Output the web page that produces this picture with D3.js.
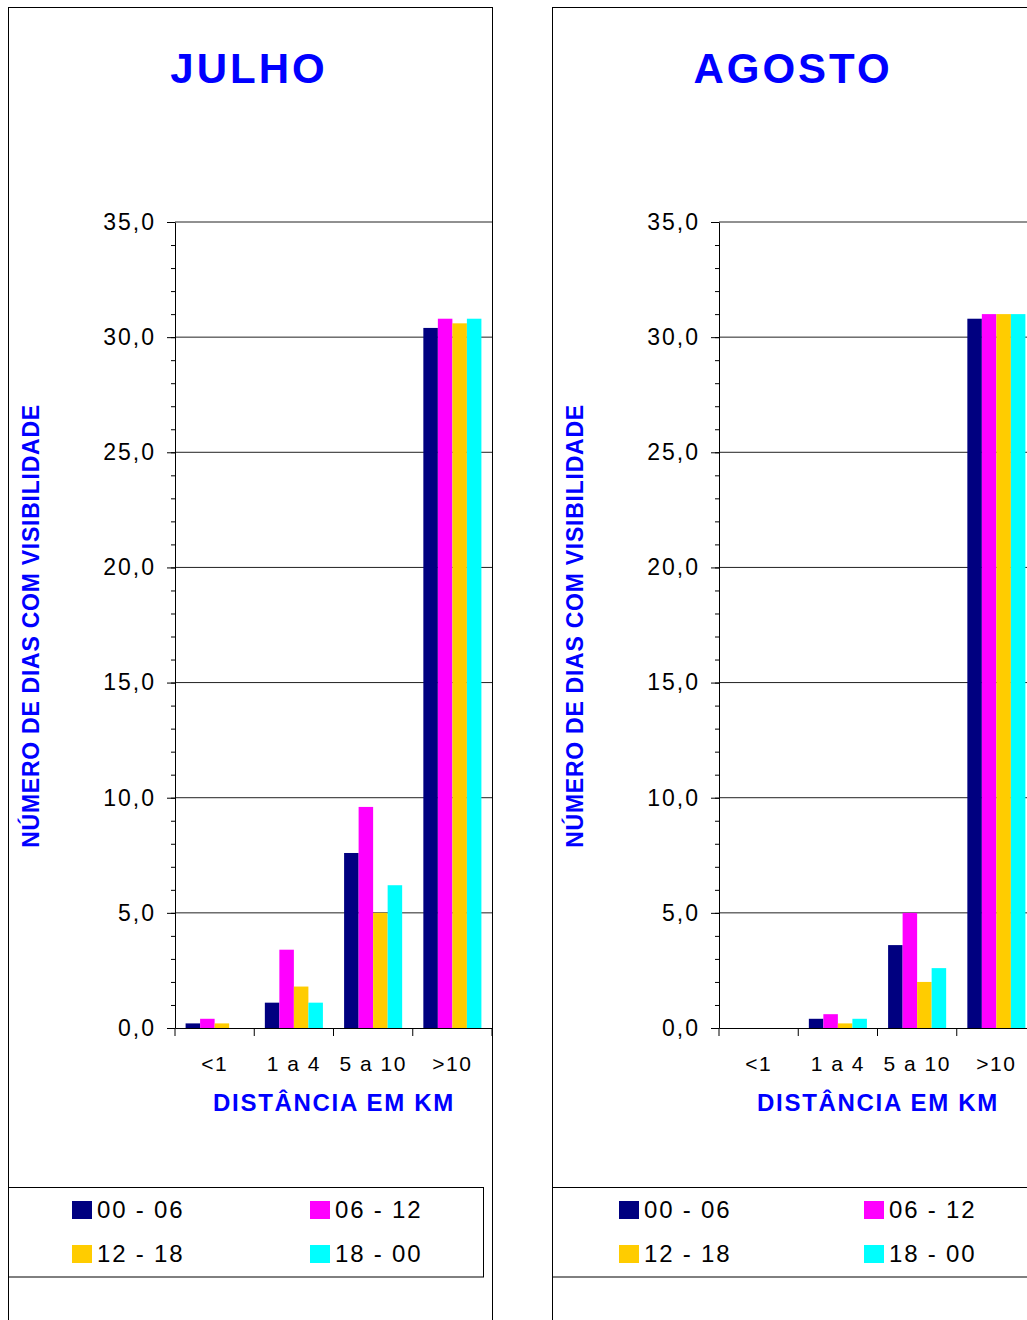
<!DOCTYPE html>
<html>
<head>
<meta charset="utf-8">
<script src="https://cdn.jsdelivr.net/npm/d3@7"></script>
<style>
  body { margin: 0; background: #fff; }
  svg { display: block; font-family: Arial, "Liberation Sans", sans-serif; }
</style>
</head>
<body>
<svg id="chart" width="1027" height="1320"></svg>
<script>
// ---- data ----
const categories = ["<1", "1 a 4", "5 a 10", ">10"];
const series = ["00 - 06", "06 - 12", "12 - 18", "18 - 00"];
const seriesColors = ["#000080", "#FF00FF", "#FFCC00", "#00FFFF"];

// values per time slot, in category order
const julho = [
  [0.2, 1.1, 7.6, 30.4],   // 00 - 06
  [0.4, 3.4, 9.6, 30.8],   // 06 - 12
  [0.2, 1.8, 5.0, 30.6],   // 12 - 18
  [0.0, 1.1, 6.2, 30.8]    // 18 - 00
];
const agosto = [
  [0.0, 0.4, 3.6, 30.8],
  [0.0, 0.6, 5.0, 31.0],
  [0.0, 0.2, 2.0, 31.0],
  [0.0, 0.4, 2.6, 31.0]
];

const yTickValues = [0, 5, 10, 15, 20, 25, 30, 35];
const yTickLabels = ["0,0", "5,0", "10,0", "15,0", "20,0", "25,0", "30,0", "35,0"];
const yAxisTitle = "NÚMERO DE DIAS COM VISIBILIDADE";
const xAxisTitle = "DISTÂNCIA EM KM";

// ---- layout ----
const svg = d3.select("#chart");
const BLUE = "#0000FF";

const panels = [
  { title: "JULHO", values: julho, dx: 0, legendCols: [72, 310] },
  { title: "AGOSTO", values: agosto, dx: 544, legendCols: [75, 320] }
];

const plot = { left: 175, right: 492, top: 222, bottom: 1028 };

const y = d3.scaleLinear().domain([0, 35]).range([plot.bottom, plot.top]);
const x0 = d3.scaleBand().domain(categories).range([plot.left, plot.right]);
const x1 = d3.scaleBand().domain(series).range([0, x0.bandwidth()])
  .paddingInner(0).paddingOuter(0.73);

panels.forEach(p => {
  const g = svg.append("g").attr("transform", `translate(${p.dx},0)`);

  // panel frame
  g.append("rect")
    .attr("x", 8.5).attr("y", 7.5)
    .attr("width", 484).attr("height", 1400)
    .attr("fill", "none").attr("stroke", "#000").attr("stroke-width", 1);

  // title
  g.append("text")
    .attr("x", 249).attr("y", 83)
    .attr("text-anchor", "middle")
    .attr("font-size", 42).attr("font-weight", "bold")
    .attr("letter-spacing", 3)
    .attr("fill", BLUE)
    .text(p.title);

  // gridlines
  g.append("g")
    .selectAll("line")
    .data(yTickValues.filter(v => v > 0))
    .join("line")
    .attr("x1", plot.left).attr("x2", plot.right)
    .attr("y1", d => y(d)).attr("y2", d => y(d))
    .attr("stroke", "#222").attr("stroke-width", 1);

  // bars
  const bars = g.append("g");
  series.forEach((s, si) => {
    bars.append("g")
      .attr("fill", seriesColors[si])
      .selectAll("rect")
      .data(p.values[si].map((v, ci) => ({ cat: categories[ci], v })))
      .join("rect")
      .attr("x", d => x0(d.cat) + x1(s))
      .attr("width", x1.bandwidth())
      .attr("y", d => y(d.v))
      .attr("height", d => y(0) - y(d.v));
  });

  // minor y ticks
  g.append("g")
    .attr("transform", `translate(${plot.left},0)`)
    .call(d3.axisLeft(y).tickValues(d3.range(0, 36, 1)).tickSize(4).tickSizeOuter(0).tickFormat(""))
    .call(a => a.select(".domain").remove())
    .call(a => a.selectAll("line").attr("stroke", "#000"));

  // major y axis
  g.append("g")
    .attr("transform", `translate(${plot.left},0)`)
    .call(d3.axisLeft(y).tickValues(yTickValues).tickSize(8).tickSizeOuter(0)
      .tickPadding(11).tickFormat((d, i) => yTickLabels[i]))
    .call(a => a.select(".domain").attr("stroke", "#000"))
    .call(a => a.selectAll("line").attr("stroke", "#000"))
    .call(a => a.selectAll("text")
      .attr("font-size", 23).attr("letter-spacing", 2)
      .attr("font-family", "Arial, 'Liberation Sans', sans-serif")
      .attr("fill", "#000"));

  // x axis with category labels
  g.append("g")
    .attr("transform", `translate(0,${plot.bottom})`)
    .call(d3.axisBottom(x0).tickSize(0).tickSizeOuter(0).tickPadding(28))
    .call(a => a.select(".domain").attr("stroke", "#000"))
    .call(a => a.selectAll("text")
      .attr("font-size", 21).attr("letter-spacing", 1.5)
      .attr("font-family", "Arial, 'Liberation Sans', sans-serif")
      .attr("fill", "#000"));

  // category boundary ticks
  g.append("g")
    .selectAll("line")
    .data(categories.map(c => x0(c)).concat([x0.range()[1]]))
    .join("line")
    .attr("x1", d => d).attr("x2", d => d)
    .attr("y1", plot.bottom).attr("y2", plot.bottom + 8)
    .attr("stroke", "#000");

  // axis titles
  g.append("text")
    .attr("x", 334).attr("y", 1111)
    .attr("text-anchor", "middle")
    .attr("font-size", 24).attr("font-weight", "bold")
    .attr("letter-spacing", 1.7)
    .attr("fill", BLUE)
    .text(xAxisTitle);

  g.append("text")
    .attr("transform", "translate(39,626) rotate(-90)")
    .attr("text-anchor", "middle")
    .attr("font-size", 23).attr("font-weight", "bold")
    .attr("letter-spacing", 0.75)
    .attr("fill", BLUE)
    .text(yAxisTitle);

  // legend
  const lg = g.append("g");
  lg.append("rect")
    .attr("x", 8.5).attr("y", 1187.5)
    .attr("width", 475).attr("height", 89.5)
    .attr("fill", "#fff").attr("stroke", "#000");
  series.forEach((s, i) => {
    const cx = p.legendCols[i % 2];
    const ry = 1201 + Math.floor(i / 2) * 44;
    lg.append("rect")
      .attr("x", cx).attr("y", ry)
      .attr("width", 20).attr("height", 18)
      .attr("fill", seriesColors[i]);
    lg.append("text")
      .attr("x", cx + 25).attr("y", ry + 17)
      .attr("font-size", 24).attr("letter-spacing", 1.8)
      .attr("fill", "#000")
      .text(s);
  });
});
</script>
</body>
</html>
